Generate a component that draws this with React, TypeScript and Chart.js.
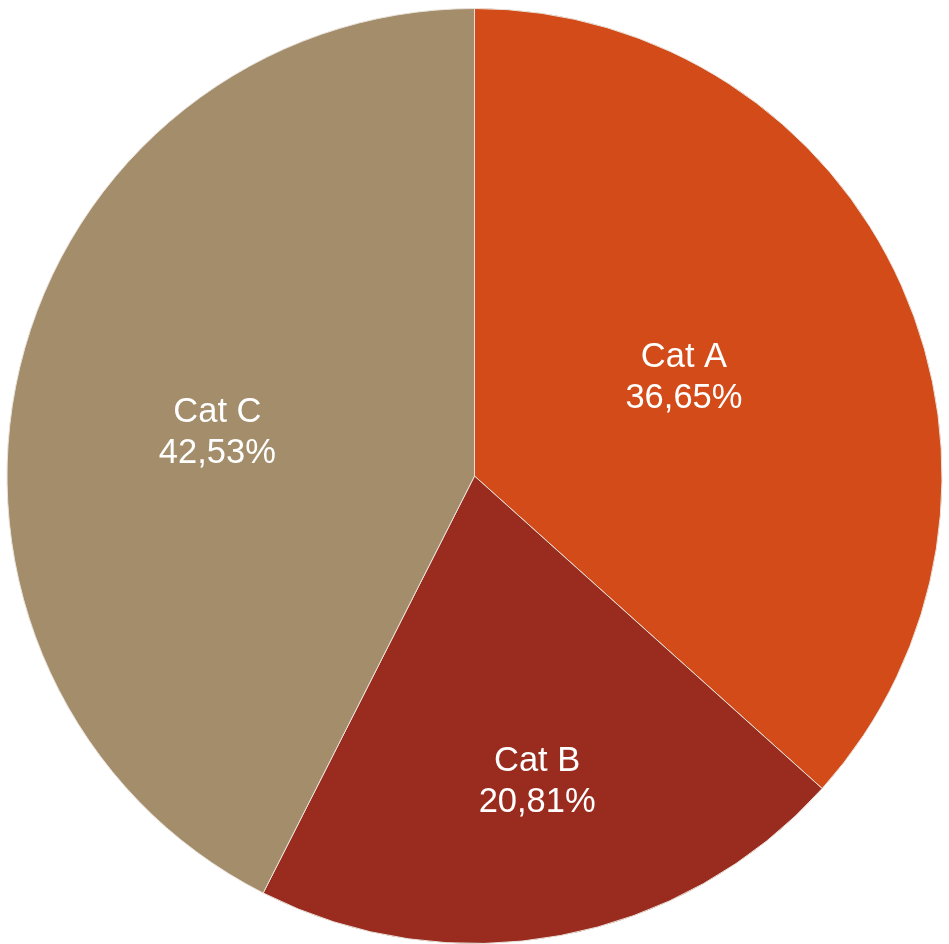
import React, { useEffect, useRef } from "react";
import { Chart, registerables } from "chart.js";

Chart.register(...registerables);

const categories = ["Cat A", "Cat B", "Cat C"];
const values = [36.65, 20.81, 42.53];
const percentLabels = ["36,65%", "20,81%", "42,53%"];
const colors = ["#D24B18", "#9A2B1F", "#A38D6A"];
// label placement in units of radius (x, y) relative to pie centre
const labelOffsets = [
  [0.448, -0.214],
  [0.134, 0.65],
  [-0.55, -0.096],
];

const labelPlugin = {
  id: "sliceLabels",
  afterDatasetsDraw(chart: any) {
    const ctx = chart.ctx;
    const meta = chart.getDatasetMeta(0);
    ctx.save();
    ctx.fillStyle = "#ffffff";
    ctx.font = '34.5px "Liberation Sans", Arial, sans-serif';
    ctx.textAlign = "center";
    ctx.textBaseline = "alphabetic";
    meta.data.forEach((arc: any, i: number) => {
      const r = arc.outerRadius;
      const x = arc.x + labelOffsets[i][0] * r;
      const y = arc.y + labelOffsets[i][1] * r;
      ctx.fillText(categories[i], x, y - 9);
      ctx.fillText(percentLabels[i], x, y + 32);
    });
    ctx.restore();
  },
};

export default function App() {
  const ref = useRef<HTMLCanvasElement>(null);
  useEffect(() => {
    if (!ref.current) return;
    const chart = new Chart(ref.current, {
      type: "pie",
      data: {
        labels: categories,
        datasets: [
          {
            data: values,
            backgroundColor: colors,
            borderColor: "#e8e2da",
            borderWidth: 1,
          },
        ],
      },
      options: {
        animation: false,
        responsive: false,
        maintainAspectRatio: false,
        layout: { padding: { top: 8, bottom: 0, left: 0, right: 0 } },
        plugins: {
          legend: { display: false },
          tooltip: { enabled: false },
        },
      },
      plugins: [labelPlugin],
    });
    return () => chart.destroy();
  }, []);
  return (
    <div style={{ position: "fixed", left: 0, top: 0, width: 949, height: 944, background: "#fff" }}>
      <canvas ref={ref} width={949} height={944} style={{ width: 949, height: 944 }} />
    </div>
  );
}
